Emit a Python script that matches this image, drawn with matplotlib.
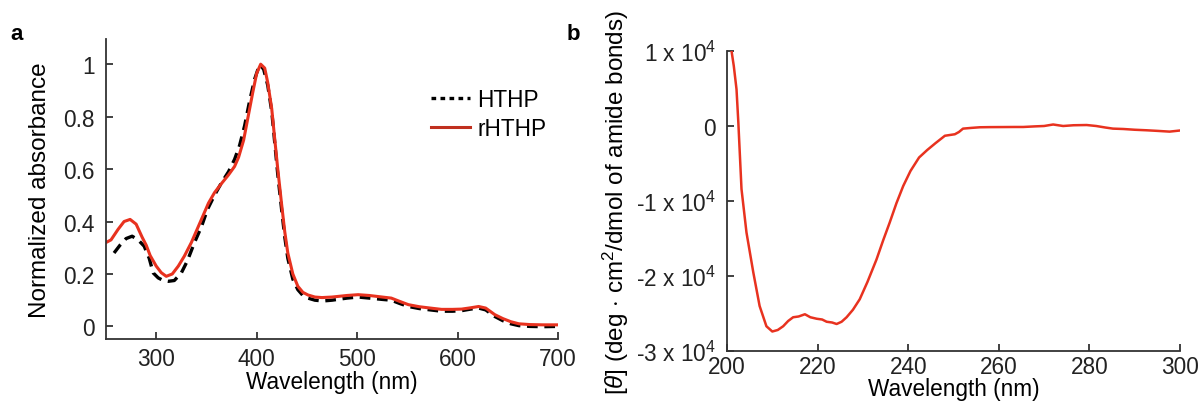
import matplotlib
matplotlib.use("Agg")
import matplotlib.pyplot as plt

plt.rcParams['font.family'] = ['Liberation Sans', 'DejaVu Sans']
plt.rcParams['mathtext.fontset'] = 'custom'
plt.rcParams['mathtext.rm'] = 'Liberation Sans'
plt.rcParams['mathtext.it'] = 'Liberation Sans:italic'

# panel a: absorbance spectra
rhthp_wl = [250, 255, 262, 268, 274, 280, 286, 290, 294, 300, 305, 310, 316, 322, 328,
            335, 345, 352, 358, 365, 372, 378, 382, 387, 392, 396, 400, 404, 408, 411,
            415, 418, 421, 425, 428, 431, 436, 441, 446, 451, 458, 465, 475, 490, 501,
            512, 525, 534, 542, 551, 562, 575, 584, 595, 604, 613, 621, 628, 637, 645,
            653, 661, 672, 685, 700]
rhthp_abs = [0.32, 0.33, 0.37, 0.40, 0.408, 0.39, 0.34, 0.31, 0.27, 0.23, 0.205, 0.191, 0.20, 0.23, 0.268,
             0.32, 0.408, 0.47, 0.51, 0.545, 0.578, 0.61, 0.645, 0.71, 0.81, 0.89, 0.965, 1.0, 0.985, 0.93,
             0.83, 0.714, 0.6, 0.46, 0.36, 0.28, 0.2, 0.153, 0.13, 0.12, 0.112, 0.11, 0.112, 0.118, 0.121,
             0.118, 0.112, 0.108, 0.096, 0.083, 0.075, 0.069, 0.065, 0.065, 0.066, 0.071, 0.076, 0.07, 0.045, 0.03,
             0.018, 0.01, 0.007, 0.006, 0.006]

hthp_wl = [258, 264, 270, 276, 282, 288, 293, 297, 302, 307, 312, 318, 325, 331, 338,
           345, 351, 358, 365, 372, 378, 383, 388, 393, 398, 403, 407, 411, 415, 418,
           421, 425, 428, 431, 436, 441, 446, 451, 458, 466, 475, 490, 501, 512, 525,
           534, 542, 551, 562, 575, 584, 595, 604, 613, 621, 628, 637, 645, 653, 661,
           672, 685, 700]
hthp_abs = [0.28, 0.31, 0.335, 0.344, 0.33, 0.306, 0.26, 0.204, 0.185, 0.175, 0.172, 0.175, 0.204, 0.25, 0.319,
            0.38, 0.446, 0.5, 0.548, 0.59, 0.637, 0.69, 0.765, 0.86, 0.943, 1.0, 0.98, 0.92, 0.82, 0.7,
            0.58, 0.44, 0.34, 0.26, 0.18, 0.14, 0.118, 0.108, 0.1, 0.097, 0.1, 0.108, 0.112, 0.108, 0.103,
            0.1, 0.088, 0.076, 0.068, 0.062, 0.058, 0.058, 0.06, 0.066, 0.07, 0.063, 0.038, 0.022,
            0.01, 0.003, 0.0, -0.001, 0.0]

# panel b: CD spectrum
cd_wl = [201.0, 201.5, 202.1, 202.5, 203.2, 204.3, 205.8, 207.2, 208.7, 210.0, 211.2, 212.4, 213.5, 214.6,
         215.8, 217.2, 218.4, 219.8, 221.0, 222.0, 223.2, 224.2, 225.3, 226.4, 227.8, 229.3, 231.0, 233.0,
         234.5, 235.9, 237.4, 238.9, 240.5, 242.4, 244.2, 246.0, 248.1, 250.3, 251.2, 252.1, 254.0, 255.8,
         258.0, 261.0, 263.5, 265.4, 268.0, 270.0, 272.0, 274.2, 276.5, 279.4, 281.5, 283.5, 285.2, 287.5,
         290.0, 292.6, 295.0, 297.7, 300.0]
cd_theta = [1.0e4, 0.8e4, 0.49e4, 0.05e4, -0.84e4, -1.42e4, -1.95e4, -2.40e4, -2.67e4, -2.74e4, -2.72e4, -2.67e4, -2.60e4, -2.55e4,
            -2.54e4, -2.51e4, -2.55e4, -2.57e4, -2.58e4, -2.61e4, -2.62e4, -2.64e4, -2.61e4, -2.55e4, -2.45e4, -2.31e4, -2.08e4, -1.78e4,
            -1.52e4, -1.29e4, -1.03e4, -0.80e4, -0.60e4, -0.42e4, -0.32e4, -0.23e4, -0.13e4, -0.11e4, -0.08e4, -0.035e4, -0.025e4, -0.017e4,
            -0.015e4, -0.014e4, -0.013e4, -0.013e4, -0.005e4, 0.0e4, 0.02e4, 0.0, 0.01e4, 0.013e4, 0.0e4, -0.02e4, -0.035e4, -0.04e4,
            -0.05e4, -0.057e4, -0.065e4, -0.075e4, -0.06e4]

a_xticks = [300, 400, 500, 600, 700]
a_yticks = [0, 0.2, 0.4, 0.6, 0.8, 1.0]
a_yticklabels = ['0', '0.2', '0.4', '0.6', '0.8', '1']
b_xticks = [200, 220, 240, 260, 280, 300]
b_yticks = [-3e4, -2e4, -1e4, 0, 1e4]
b_yticklabels = ['-3 x 10$^4$', '-2 x 10$^4$', '-1 x 10$^4$', '0', '1 x 10$^4$']

red = '#e8321f'
axis_col = '#333333'
fs = 16.3

fig = plt.figure(figsize=(12.02, 4.06), dpi=100)
ax1 = fig.add_axes([106/1202, 66/406, 452/1202, 300/406])
ax2 = fig.add_axes([727/1202, 54/406, 453/1202, 300/406])


def style(ax, xpad):
    for s in ['top', 'right']:
        ax.spines[s].set_visible(False)
    for s in ['left', 'bottom']:
        ax.spines[s].set_color(axis_col)
        ax.spines[s].set_linewidth(1.3)
    ax.tick_params(direction='in', length=5, width=1.3, color=axis_col,
                   labelsize=fs, labelcolor='#222222')
    ax.tick_params(axis='x', pad=xpad)
    ax.tick_params(axis='y', pad=8)


ax1.plot(hthp_wl, hthp_abs, color='black', lw=2.4, dashes=(3.2, 2.0), label='HTHP')
ax1.plot(rhthp_wl, rhthp_abs, color=red, lw=2.2, label='rHTHP')
ax1.set_xlim(250, 700)
ax1.set_ylim(-0.048, 1.096)
ax1.set_xticks(a_xticks)
ax1.set_yticks(a_yticks)
ax1.set_yticklabels(a_yticklabels)
style(ax1, 6)
ax1.set_xlabel('Wavelength (nm)', fontsize=fs, labelpad=0)
ax1.set_ylabel('Normalized absorbance', fontsize=17.5, labelpad=9)
leg = ax1.legend(loc='upper right', bbox_to_anchor=(1.02, 0.905), frameon=False,
                 fontsize=fs, handlelength=1.7, handletextpad=0.35, labelspacing=0.25)
for h in leg.get_lines():
    if h.get_label() == 'HTHP':
        h.set_dashes((1.4, 1.3))
    else:
        h.set_color('#c0301f')

ax2.plot(cd_wl, cd_theta, color=red, lw=1.8)
ax2.set_xlim(200, 300)
ax2.set_ylim(-3e4, 1e4)
ax2.set_xticks(b_xticks)
ax2.set_yticks(b_yticks)
ax2.set_yticklabels(b_yticklabels)
style(ax2, 3)
ax2.set_xlabel('Wavelength (nm)', fontsize=fs, labelpad=-1)
ax2.set_ylabel(r'[$\theta$] (deg $\cdot$ cm$^2$/dmol of amide bonds)', fontsize=17.5, labelpad=4)

fig.text(10/1202, 1 - 35/406, 'a', fontsize=16, fontweight='bold', va='center')
fig.text(567/1202, 1 - 35/406, 'b', fontsize=16, fontweight='bold', va='center')

fig.savefig('out.png', dpi=100)
